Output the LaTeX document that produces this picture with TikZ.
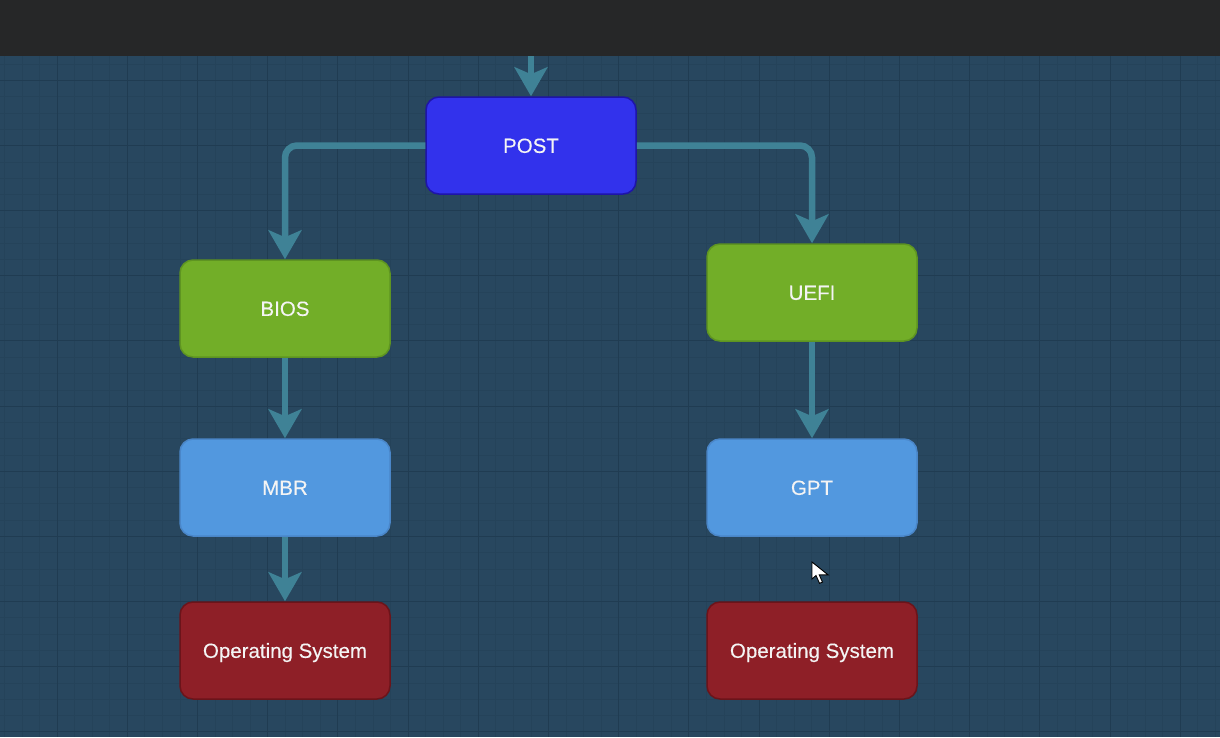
\documentclass[tikz,border=0pt]{standalone}
\usepackage{fontspec}
\setmainfont{Liberation Sans}
\newfontfamily\boxfont{Liberation Sans}[FakeBold=0.25]
\usetikzlibrary{arrows.meta}
\definecolor{bgc}{HTML}{28475F}
\definecolor{barc}{HTML}{262728}
\definecolor{minorc}{HTML}{25435A}
\definecolor{majorc}{HTML}{203C52}
\definecolor{arrc}{HTML}{3F8296}
\definecolor{postf}{HTML}{3232EC}
\definecolor{postd}{HTML}{1E14A8}
\definecolor{greenf}{HTML}{72AE28}
\definecolor{greend}{HTML}{5E9421}
\definecolor{bluef}{HTML}{5298DF}
\definecolor{blued}{HTML}{4A86C8}
\definecolor{redf}{HTML}{8E1F27}
\definecolor{redd}{HTML}{6B141A}
\definecolor{txtc}{HTML}{F4F4F4}
\tikzset{
  box/.style={rectangle, rounded corners=13pt, minimum width=210pt, minimum height=97pt,
    inner sep=0pt, line width=1.5pt, text=txtc, font=\boxfont\fontsize{20.5}{24}\selectfont,
    text height=14.7pt, text depth=0pt},
  postbox/.style={box, fill=postf, draw=postd},
  greenbox/.style={box, fill=greenf, draw=greend},
  bluebox/.style={box, fill=bluef, draw=blued},
  redbox/.style={box, fill=redf, draw=redd},
  conn/.style={draw=arrc, line width=6.5pt, rounded corners=12pt,
    -{Stealth[length=29pt, width=33pt, inset=7pt]}},
  minorgrid/.style={draw=minorc, line width=0.6pt},
  majorgrid/.style={draw=majorc, line width=1pt}
}
\begin{document}
\begin{tikzpicture}[x=1pt, y=-1pt]
\useasboundingbox (0,0) rectangle (1220,737);
\fill[bgc] (0,56) rectangle (1220,737);
\begin{scope}
\clip (0,56) rectangle (1220,737);
\foreach \k in {-3,...,66} {
  \pgfmathtruncatemacro\mm{mod(\k+400,4)}
  \ifnum\mm=0\relax\else
    \pgfmathsetmacro\xx{57+17.55*\k} \draw[minorgrid] (\xx,56) -- (\xx,737);
  \fi}
\foreach \k in {-1,...,41} {
  \pgfmathtruncatemacro\mm{mod(\k+400,4)}
  \ifnum\mm=0\relax\else
    \pgfmathsetmacro\yy{80.5+16.28*\k} \draw[minorgrid] (0,\yy) -- (1220,\yy);
  \fi}
\foreach \k in {0,...,16} {\pgfmathsetmacro\xx{57+70.2*\k} \draw[majorgrid] (\xx,56) -- (\xx,737);}
\foreach \k in {0,...,10} {\pgfmathsetmacro\yy{80.5+65.12*\k} \draw[majorgrid] (0,\yy) -- (1220,\yy);}
\end{scope}
\fill[barc] (0,0) rectangle (1220,56);

\node[postbox] (post) at (531,145.5) {POST};
\node[greenbox] (bios) at (285,308.5) {BIOS};
\node[greenbox] (uefi) at (812,292.5) {UEFI};
\node[bluebox] (mbr) at (285,487.5) {MBR};
\node[bluebox] (gpt) at (812,487.5) {GPT};
\node[redbox] (osl) at (285,650.5) {Operating System};
\node[redbox] (osr) at (812,650.5) {Operating System};
\coordinate (topin) at (531,56);

\draw[conn] (topin) -- (post.north);
\draw[conn] (post.west) -| (bios.north);
\draw[conn] (post.east) -| (uefi.north);
\draw[conn] (bios.south) -- (mbr.north);
\draw[conn] (mbr.south) -- (osl.north);
\draw[conn] (uefi.south) -- (gpt.north);

% mouse cursor
\coordinate (cur) at (812,562);
\draw[fill=white, draw=black, line width=0.9pt, line join=miter]
  (cur) -- ++(0,17) -- ++(4,-3.5) -- ++(3.5,7.8) -- ++(3,-1.2) -- ++(-3.3,-7.3) -- ++(8.8,0) -- cycle;
\end{tikzpicture}
\end{document}
